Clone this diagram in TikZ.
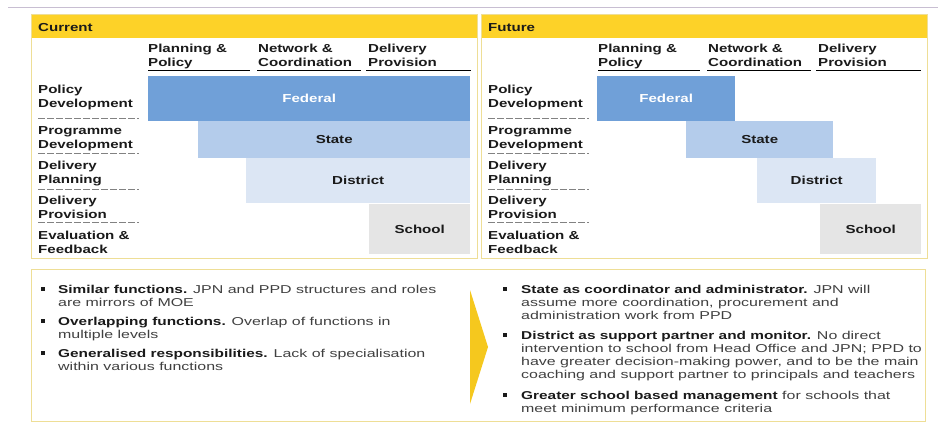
\documentclass[tikz,border=0pt]{standalone}
\usepackage{fontspec}
\setmainfont[FakeStretch=1.3]{Liberation Sans}
\newfontfamily\bodyfont[FakeStretch=1.40]{Liberation Sans}
\newfontfamily\bbfontfam[FakeStretch=1.35]{Liberation Sans}
\newcommand\bb{\bbfontfam\bfseries\color{txt}}
\definecolor{hdr}{RGB}{253,210,40}
\definecolor{pborder}{RGB}{238,222,150}
\definecolor{fed}{RGB}{112,160,216}
\definecolor{stc}{RGB}{180,204,235}
\definecolor{dist}{RGB}{220,230,244}
\definecolor{schl}{RGB}{229,229,229}
\definecolor{topl}{RGB}{200,190,210}
\definecolor{arrc}{RGB}{245,200,30}
\definecolor{txt}{RGB}{26,26,26}
\definecolor{body}{RGB}{64,64,64}
\definecolor{dashc}{RGB}{130,130,130}
\newcommand\drawpanel[3]{%
\begin{scope}[xshift=#2]
  \node[fill=hdr, anchor=north west, minimum width=446pt, minimum height=24pt, inner sep=0] (#1hdr) at (31,14) {};
  \node[draw=pborder, line width=1pt, anchor=north west, minimum width=446pt, minimum height=244pt, inner sep=0] (#1box) at (31,14) {};
  \node[lbl] (#1title) at (38,31.5) {#3};
  \node[lbl] (#1c1) at (148,66) {Planning \&\\Policy};
  \node[lbl] (#1c2) at (258,66) {Network \&\\Coordination};
  \node[lbl] (#1c3) at (368,66) {Delivery\\Provision};
  \draw[uline] (148,70) -- (250,70);
  \draw[uline] (257,70) -- (361,70);
  \draw[uline] (366,70) -- (471,70);
  \node[lbl] (#1r1) at (38,107) {Policy\\Development};
  \node[lbl] (#1r2) at (38,148) {Programme\\Development};
  \node[lbl] (#1r3) at (38,183) {Delivery\\Planning};
  \node[lbl] (#1r4) at (38,218) {Delivery\\Provision};
  \node[lbl] (#1r5) at (38,253) {Evaluation \&\\Feedback};
  \draw[dline] (38,118) -- (139,118);
  \draw[dline] (38,153) -- (139,153);
  \draw[dline] (38,189) -- (139,189);
  \draw[dline] (38,222) -- (139,222);
\end{scope}}
\begin{document}
\begin{tikzpicture}[x=1pt,y=-1pt,
  lbl/.style={anchor=base west, inner sep=0, align=left, text=txt,
    font=\bfseries\fontsize{11.6}{13.7}\selectfont},
  uline/.style={line width=0.9pt, black},
  dline/.style={line width=0.7pt, dashc, dash pattern=on 7pt off 2pt},
  bar/.style={anchor=north west, inner sep=0, font=\bfseries\fontsize{11.6}{13.6}\selectfont, text=txt},
  bul/.style={fill=txt, inner sep=0, minimum size=3.4pt},
  ptext/.style={anchor=base west, inner sep=0, align=left, text=body,
    font=\bodyfont\fontsize{11.4}{13.2}\selectfont}]
\useasboundingbox (0,0) rectangle (938,423);
\fill[white] (0,0) rectangle (938,423);
\draw[topl, line width=1pt] (8,7) -- (938,7);
\drawpanel{c}{0pt}{Current}
\drawpanel{f}{450pt}{Future}
% current bars
\node[bar, fill=fed, minimum width=322pt, minimum height=45pt, text=white] (cfed) at (148,76) {Federal};
\node[bar, fill=stc, minimum width=272pt, minimum height=37pt] (cst) at (198,121) {State};
\node[bar, fill=dist, minimum width=224pt, minimum height=45pt] (cdi) at (246,158) {District};
\node[bar, fill=schl, minimum width=101pt, minimum height=50pt] (csc) at (369,204) {School};
% future bars
\node[bar, fill=fed, minimum width=138pt, minimum height=45pt, text=white] (ffed) at (597,76) {Federal};
\node[bar, fill=stc, minimum width=147pt, minimum height=37pt] (fst) at (686,121) {State};
\node[bar, fill=dist, minimum width=119pt, minimum height=45pt] (fdi) at (757,158) {District};
\node[bar, fill=schl, minimum width=101pt, minimum height=50pt] (fsc) at (820,204) {School};
% bottom box
\node[draw=pborder, line width=1pt, anchor=north west, minimum width=894pt, minimum height=152pt, inner sep=0] (bottom) at (31,269) {};
\fill[arrc] (470,290) -- (488,347) -- (470,404) -- cycle;
% left bullets
\node[bul] (lb1) at (43,289) {};
\node[bul] (lb2) at (43,321) {};
\node[bul] (lb3) at (43,353) {};
\node[ptext] (lp1) at (58,306.2) {{\bb Similar functions.} JPN and PPD structures and roles\\are mirrors of MOE};
\node[ptext] (lp2) at (58,338.2) {{\bb Overlapping functions.} Overlap of functions in\\multiple levels};
\node[ptext] (lp3) at (58,370.2) {{\bb Generalised responsibilities.} Lack of specialisation\\within various functions};
% right bullets
\node[bul] (rb1) at (505,289) {};
\node[bul] (rb2) at (505,335) {};
\node[bul] (rb3) at (505,395) {};
\node[ptext] (rp1) at (521,319.4) {{\bb State as coordinator and administrator.} JPN will\\assume more coordination, procurement and\\administration work from PPD};
\node[ptext] (rp2) at (521,378.6) {{\bb District as support partner and monitor.} No direct\\intervention to school from Head Office and JPN; PPD to\\have greater decision-making power, and to be the main\\coaching and support partner to principals and teachers};
\node[ptext] (rp3) at (521,412.2) {{\bb Greater school based management} for schools that\\meet minimum performance criteria};
\end{tikzpicture}
\end{document}
